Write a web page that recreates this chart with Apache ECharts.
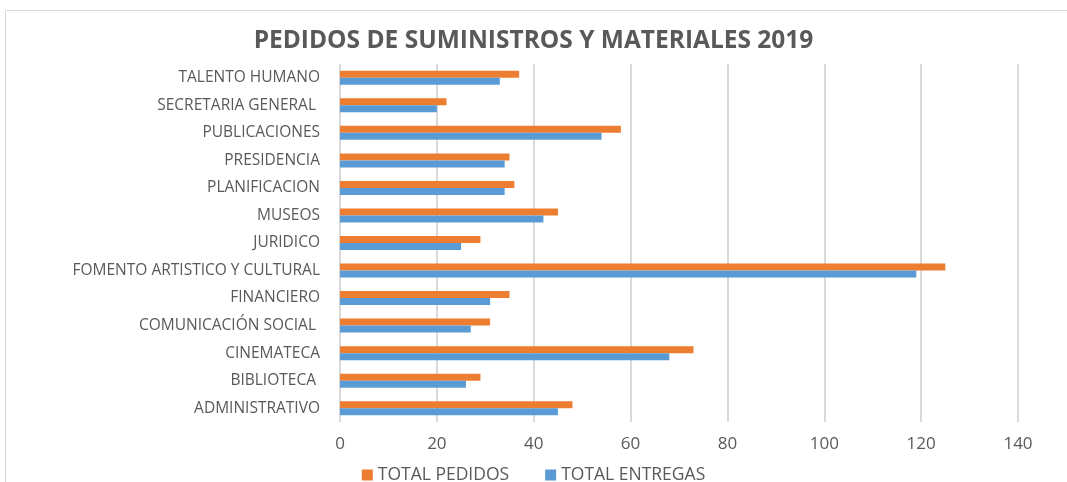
<!DOCTYPE html>
<html>
<head>
<meta charset="utf-8">
<script src="https://cdn.jsdelivr.net/npm/echarts@6/dist/echarts.min.js"></script>
<style>
  html, body { margin: 0; padding: 0; background: #fff; }
  #chart { width: 1067px; height: 482px; }
</style>
</head>
<body>
<div id="chart"></div>
<script>
// categories top to bottom, as in the picture
const areas = [
  'TALENTO HUMANO', 'SECRETARIA GENERAL ', 'PUBLICACIONES', 'PRESIDENCIA',
  'PLANIFICACION', 'MUSEOS', 'JURIDICO', 'FOMENTO ARTISTICO Y CULTURAL',
  'FINANCIERO', 'COMUNICACIÓN SOCIAL ', 'CINEMATECA', 'BIBLIOTECA ', 'ADMINISTRATIVO'
];
const totalPedidos = [37, 22, 58, 35, 36, 45, 29, 125, 35, 31, 73, 29, 48];
const totalEntregas = [33, 20, 54, 34, 34, 42, 25, 119, 31, 27, 68, 26, 45];
const xTicks = { min: 0, max: 140, interval: 20 };

const font = '"Open Sans", sans-serif';
const gray = '#595959';

const myChart = echarts.init(document.getElementById('chart'));
const option = {
  backgroundColor: '#fff',
  textStyle: { fontFamily: font },
  graphic: [{
    type: 'rect',
    shape: { x: 5.5, y: 10.5, width: 1070, height: 480 },
    style: { fill: 'none', stroke: '#d9d9d9', lineWidth: 1 },
    silent: true
  }],
  title: {
    text: 'PEDIDOS DE SUMINISTROS Y MATERIALES 2019',
    left: 'center',
    top: 24,
    textStyle: { fontFamily: font, fontSize: 24.5, fontWeight: 'bold', color: gray }
  },
  legend: {
    top: 461,
    left: 'center',
    itemWidth: 11,
    itemHeight: 11,
    itemGap: 36,
    icon: 'rect',
    textStyle: { fontFamily: font, fontSize: 17.5, color: gray },
    data: ['TOTAL PEDIDOS', 'TOTAL ENTREGAS']
  },
  grid: { left: 340, right: 49, top: 64, bottom: 60, containLabel: false },
  xAxis: {
    type: 'value',
    min: xTicks.min,
    max: xTicks.max,
    interval: xTicks.interval,
    axisLine: { show: false },
    axisTick: { show: false },
    axisLabel: { color: gray, fontSize: 17, fontFamily: font, margin: 14 },
    splitLine: { lineStyle: { color: '#d9d9d9', width: 2 } }
  },
  yAxis: {
    type: 'category',
    inverse: true,
    data: areas,
    axisLine: { show: false },
    axisTick: { show: false },
    axisLabel: { color: gray, fontSize: 15.5, fontFamily: font, margin: 20 }
  },
  series: [
    {
      name: 'TOTAL PEDIDOS',
      type: 'bar',
      data: totalPedidos,
      barWidth: 7,
      barGap: '0%',
      itemStyle: { color: '#ED7D31' }
    },
    {
      name: 'TOTAL ENTREGAS',
      type: 'bar',
      data: totalEntregas,
      barWidth: 7,
      itemStyle: { color: '#5B9BD5' }
    }
  ]
};
myChart.setOption(option);
</script>
</body>
</html>
